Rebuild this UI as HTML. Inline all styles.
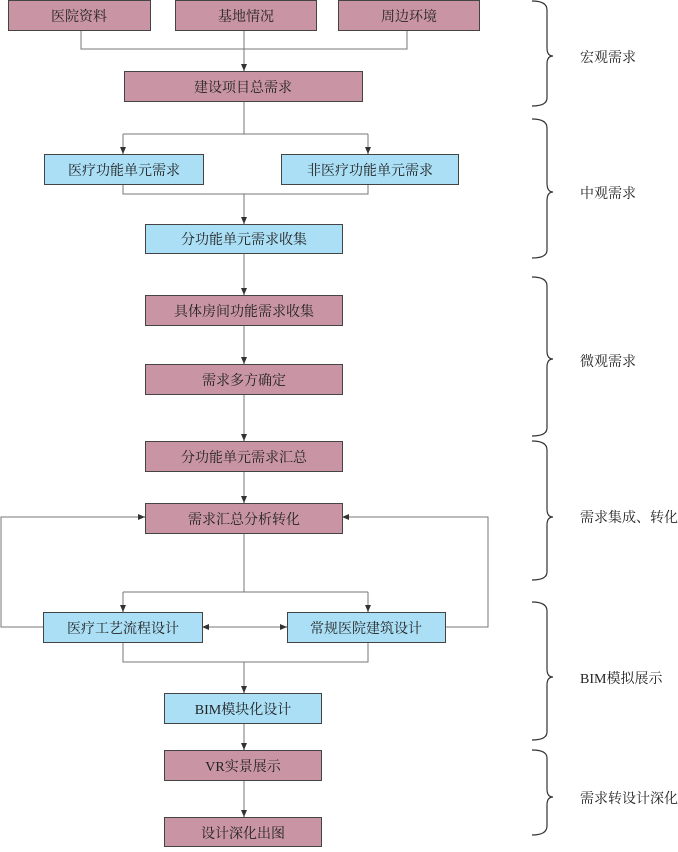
<!DOCTYPE html>
<html><head><meta charset="utf-8"><style>
html,body{margin:0;padding:0;background:#fff;}
svg text{font-family:"Liberation Serif","Noto Serif CJK SC","Noto Sans CJK SC",serif;font-size:14px;fill:#222;}
</style></head><body>
<svg width="678" height="847" viewBox="0 0 678 847" xmlns="http://www.w3.org/2000/svg">
<defs><marker id="a" markerWidth="8" markerHeight="8" refX="7" refY="4" orient="auto" markerUnits="userSpaceOnUse"><path d="M0,1 L7,4 L0,7 Z" fill="#333"/></marker></defs>
<g stroke="#777" stroke-width="1" fill="none">
<path d="M81,31V49H407V31M244,31V71" />
<path d="M244,101V134M123,134H368M123,134V154M368,134V154"/>
<path d="M123,184V194H368V184M244,194V224"/>
<path d="M244,253V295M244,325V364M244,394V441M244,471V503"/>
<path d="M244,533V592M123,592H368M123,592V612M368,592V612"/>
<path d="M43,627H1V517H145M445,627H488V517H342"/>
<path d="M202,627H287"/>
<path d="M123,642V662H368V642M244,662V693M244,723V750M244,780V817"/>
</g>
<g stroke="#333" stroke-width="1" fill="none">
<path d="M244,66V71" marker-end="url(#a)"/>
<path d="M123,149V154" marker-end="url(#a)"/><path d="M368,149V154" marker-end="url(#a)"/>
<path d="M244,219V224" marker-end="url(#a)"/>
<path d="M244,290V295" marker-end="url(#a)"/>
<path d="M244,359V364" marker-end="url(#a)"/>
<path d="M244,436V441" marker-end="url(#a)"/>
<path d="M244,498V503" marker-end="url(#a)"/>
<path d="M123,607V612" marker-end="url(#a)"/><path d="M368,607V612" marker-end="url(#a)"/>
<path d="M140,517H145" marker-end="url(#a)"/><path d="M347,517H342" marker-end="url(#a)"/>
<path d="M207,627H202" marker-end="url(#a)"/><path d="M282,627H287" marker-end="url(#a)"/>
<path d="M244,688V693" marker-end="url(#a)"/>
<path d="M244,745V750" marker-end="url(#a)"/>
<path d="M244,812V817" marker-end="url(#a)"/>
</g>
<g stroke="#444" stroke-width="1">
<g fill="#c995a4">
<rect x="8.5" y="0.5" width="142" height="30"/>
<rect x="175.5" y="0.5" width="141" height="30"/>
<rect x="338.5" y="0.5" width="141" height="30"/>
<rect x="124.5" y="71.5" width="238" height="30"/>
<rect x="145.5" y="295.5" width="197" height="30"/>
<rect x="145.5" y="364.5" width="197" height="30"/>
<rect x="145.5" y="441.5" width="197" height="30"/>
<rect x="145.5" y="503.5" width="197" height="30"/>
<rect x="164.5" y="750.5" width="157" height="30"/>
<rect x="164.5" y="817.5" width="157" height="29"/>
</g>
<g fill="#aadff6">
<rect x="44.5" y="154.5" width="159" height="30"/>
<rect x="281.5" y="154.5" width="177" height="30"/>
<rect x="145.5" y="224.5" width="197" height="29"/>
<rect x="43.5" y="612.5" width="159" height="30"/>
<rect x="287.5" y="612.5" width="158" height="30"/>
<rect x="164.5" y="693.5" width="157" height="30"/>
</g>
</g>
<g text-anchor="middle">
<text x="79" y="21">医院资料</text>
<text x="246" y="21">基地情况</text>
<text x="409" y="21">周边环境</text>
<text x="243" y="92">建设项目总需求</text>
<text x="124" y="175">医疗功能单元需求</text>
<text x="370" y="175">非医疗功能单元需求</text>
<text x="244" y="244">分功能单元需求收集</text>
<text x="244" y="316">具体房间功能需求收集</text>
<text x="244" y="385">需求多方确定</text>
<text x="244" y="462">分功能单元需求汇总</text>
<text x="244" y="524">需求汇总分析转化</text>
<text x="123" y="633">医疗工艺流程设计</text>
<text x="366" y="633">常规医院建筑设计</text>
<text x="243" y="714">BIM模块化设计</text>
<text x="243" y="771">VR实景展示</text>
<text x="243" y="838">设计深化出图</text>
</g>
<g stroke="#333" stroke-width="1.2" fill="none">
<path d="M532,1Q547,1 547,10V48Q547,56 553,56Q547,56 547,64V98Q547,106 532,106"/>
<path d="M532,119Q547,119 547,128V183Q547,192 553,192Q547,192 547,201V250Q547,258 532,258"/>
<path d="M532,277Q547,277 547,286V351Q547,359 553,359Q547,359 547,367V428Q547,436 532,436"/>
<path d="M532,441Q547,441 547,450V509Q547,517 553,517Q547,517 547,525V572Q547,580 532,580"/>
<path d="M532,602Q547,602 547,611V669Q547,677 553,677Q547,677 547,685V732Q547,740 532,740"/>
<path d="M532,750Q547,750 547,758V789Q547,797 553,797Q547,797 547,805V826Q547,835 532,835"/>
</g>
<g>
<text x="580" y="62">宏观需求</text>
<text x="580" y="198">中观需求</text>
<text x="580" y="366">微观需求</text>
<text x="580" y="522">需求集成、转化</text>
<text x="580" y="683">BIM模拟展示</text>
<text x="580" y="803">需求转设计深化</text>
</g>
</svg>
</body></html>
